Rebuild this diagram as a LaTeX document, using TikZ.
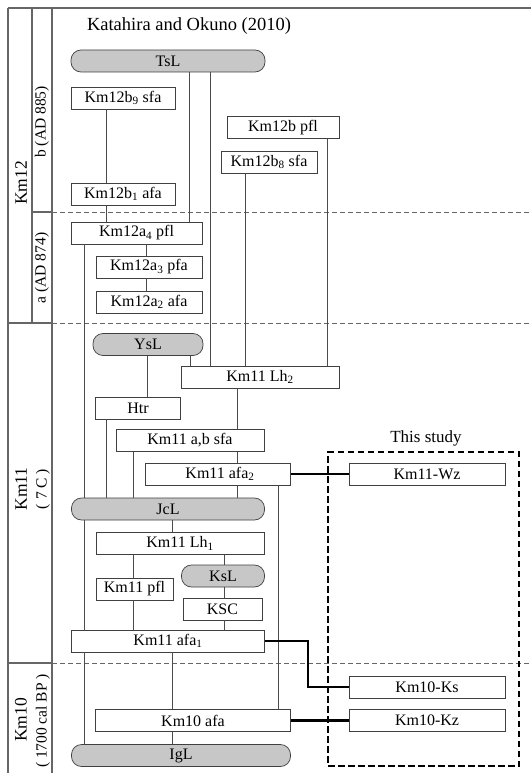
\documentclass[tikz,border=0pt]{standalone}
\usepackage{fontspec}
\setmainfont{Liberation Serif}
\newcommand\boxfnt{\fontsize{16}{18}\selectfont}
\begin{document}
\begin{tikzpicture}[x=1pt,y=-1pt,
  frame/.style={draw=black!60, line width=1.1pt},
  hdash/.style={draw=black!60, line width=0.8pt, dash pattern=on 5pt off 3pt},
  box/.style={draw=black!75, line width=0.7pt, fill=white, inner sep=0pt, font=\boxfnt, minimum height=22pt},
  pill/.style={box, fill=black!22, rounded corners=10pt},
  thinline/.style={draw=black!70, line width=0.7pt},
  conn/.style={draw=black, line width=2.2pt},
  studybox/.style={draw=black, line width=2.2pt, dash pattern=on 6.5pt off 3.5pt, inner sep=0pt},
  lbl/.style={rotate=90, font=\fontsize{17.5}{19}\selectfont},
  sublbl/.style={rotate=90, font=\fontsize{15.5}{17}\selectfont}]
\useasboundingbox[fill=white] (0,0) rectangle (531,773);
% frame
\draw[frame] (8,8) -- (531,8);
\draw[frame] (8,8) -- (8,773);
\draw[frame] (52,8) -- (52,773);
\draw[frame] (32,8) -- (32,323);
\draw[frame] (32,212) -- (52,212);
\draw[frame] (8,323) -- (52,323);
\draw[frame] (8,663) -- (52,663);
\draw[hdash] (52,212) -- (531,212);
\draw[hdash] (52,323) -- (531,323);
\draw[hdash] (52,663) -- (531,663);
% column labels
\node[lbl] (lkm12) at (21,183) {Km12};
\node[sublbl] (lb) at (42,122) {b (AD 885)};
\node[sublbl] (la) at (42,268) {a (AD 874)};
\node[lbl] (lkm11) at (21,489) {Km11};
\node[sublbl] (l7c) at (43,489) {( 7 C )};
\node[lbl] (lkm10) at (21,720) {Km10};
\node[sublbl] (l1700) at (43,721) {( 1700 cal BP )};
% title
\node[font=\fontsize{18.5}{20}\selectfont] (title) at (189,26) {Katahira and Okuno (2010)};
% nodes
\node[pill, minimum width=194pt] (TsL) at (168,61) {TsL};
\node[box, minimum width=104pt] (b9) at (123,98) {Km12b\textsubscript{9} sfa};
\node[box, minimum width=104pt] (b1) at (123,194) {Km12b\textsubscript{1} afa};
\node[box, minimum width=112pt] (bpfl) at (283,127.5) {Km12b pfl};
\node[box, minimum width=96pt] (b8) at (269,162) {Km12b\textsubscript{8} sfa};
\node[box, minimum width=131pt] (a4) at (136.5,233) {Km12a\textsubscript{4} pfl};
\node[box, minimum width=106pt] (a3) at (149,267) {Km12a\textsubscript{3} pfa};
\node[box, minimum width=106pt] (a2) at (149,302) {Km12a\textsubscript{2} afa};
\node[pill, minimum width=110pt] (YsL) at (148,344.5) {YsL};
\node[box, minimum width=158pt] (Lh2) at (260,377) {Km11 Lh\textsubscript{2}};
\node[box, minimum width=85pt] (Htr) at (138,408) {Htr};
\node[box, minimum width=148pt] (absfa) at (190,440.5) {Km11 a,b sfa};
\node[box, minimum width=145pt] (afa2) at (218,474) {\hspace*{4pt}Km11 afa\textsubscript{2}};
\node[pill, minimum width=193pt] (JcL) at (168,509) {JcL};
\node[box, minimum width=168pt] (Lh1) at (180,543.5) {Km11 Lh\textsubscript{1}};
\node[pill, minimum width=83pt] (KsL) at (223,576) {KsL};
\node[box, minimum width=77pt] (pfl) at (134.5,589) {Km11 pfl};
\node[box, minimum width=79pt] (KSC) at (222.5,609) {KSC};
\node[box, minimum width=193pt] (afa1) at (168,641) {Km11 afa\textsubscript{1}};
\node[box, minimum width=195pt] (k10afa) at (193,720.5) {Km10 afa};
\node[pill, minimum width=219pt] (IgL) at (181,755.5) {IgL};
% this study
\node[font=\fontsize{17}{19}\selectfont] (studytitle) at (426,438) {This study};
\node[studybox, minimum width=191pt, minimum height=314pt] (study) at (423.5,609) {};
\node[box, minimum width=156pt] (wz) at (427,474) {Km11-Wz};
\node[box, minimum width=156pt] (ks) at (427,687) {Km10-Ks};
\node[box, minimum width=156pt] (kz) at (427,720.5) {Km10-Kz};
% thin connectors
\newcommand\vconn[3]{\draw[thinline] (#1.south -| #3,0) -- (#2.north -| #3,0);}
\vconn{b9}{b1}{106}
\vconn{b1}{a4}{106}
\vconn{TsL}{a4}{189}
\vconn{TsL}{Lh2}{210}
\vconn{b8}{Lh2}{245}
\vconn{bpfl}{Lh2}{327}
\vconn{a4}{a3}{146}
\vconn{a3}{a2}{146}
\vconn{a4}{JcL}{84}
\vconn{JcL}{afa1}{84}
\vconn{afa1}{IgL}{84}
\vconn{YsL}{Htr}{147}
\vconn{YsL}{Lh2}{190}
\vconn{Lh2}{absfa}{237}
\vconn{absfa}{afa2}{237}
\vconn{afa2}{JcL}{237}
\vconn{Htr}{JcL}{106}
\vconn{absfa}{JcL}{133}
\vconn{afa2}{k10afa}{278}
\vconn{JcL}{Lh1}{172}
\vconn{Lh1}{pfl}{133}
\vconn{pfl}{afa1}{133}
\vconn{Lh1}{KsL}{224}
\vconn{KsL}{KSC}{224}
\vconn{KSC}{afa1}{224}
\vconn{afa1}{k10afa}{172}
\vconn{k10afa}{IgL}{172}
% thick connectors
\draw[conn] (afa2.east) -- (wz.west);
\draw[conn] (afa1.east) -- ([xshift=43pt]afa1.east) |- (ks.west);
\draw[conn] (k10afa.east) -- (kz.west);
\end{tikzpicture}
\end{document}
